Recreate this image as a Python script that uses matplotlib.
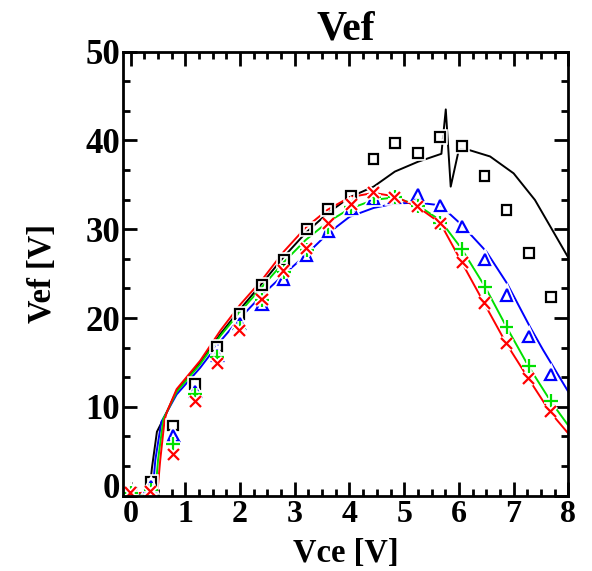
import matplotlib
matplotlib.use("Agg")
import matplotlib.pyplot as plt
import matplotlib.patheffects as pe
from matplotlib.ticker import MultipleLocator
from matplotlib.transforms import ScaledTranslation

plt.rcParams['font.family'] = ['Liberation Serif', 'DejaVu Serif']
plt.rcParams['font.weight'] = 'bold'

# measured points (markers)
vce_meas = [0.0, 0.37, 0.78, 1.18, 1.58, 1.99, 2.40, 2.80, 3.22, 3.61,
            4.03, 4.44, 4.83, 5.25, 5.66, 6.06, 6.47, 6.87, 7.28, 7.68]
vef_sq = [0.3, 1.55, 7.9, 12.6, 16.8, 20.5, 23.7, 26.5, 30.0, 32.3,
          33.8, 37.9, 39.7, 38.6, 40.4, 39.4, 36.0, 32.2, 27.3, 22.4]
vef_tri = [0.3, 1.0, 6.8, 11.7, 15.8, 19.4, 21.5, 24.4, 27.0, 29.8,
           32.4, 33.5, 33.6, 33.9, 32.7, 30.3, 26.6, 22.6, 17.9, 13.6]
vef_plus = [0.3, 0.6, 5.8, 11.4, 15.6, 18.9, 22.0, 25.2, 27.7, 30.3,
            32.5, 33.6, 33.6, 32.6, 30.7, 27.8, 23.5, 19.0, 14.6, 10.7]
vef_x = [0.3, 0.43, 4.6, 10.6, 14.9, 18.6, 22.1, 25.3, 27.8, 30.7,
         32.8, 34.1, 33.6, 32.6, 30.7, 26.3, 21.7, 17.1, 13.2, 9.5]

# simulated curves
vce_k = [0.0, 0.34, 0.39, 0.48, 0.66, 0.84, 1.27, 1.64, 2.0, 2.4, 2.8, 3.2,
         3.6, 4.0, 4.44, 4.83, 5.25, 5.68, 5.76, 5.85, 6.0, 6.2, 6.57, 7.0,
         7.39, 7.7, 8.0]
vef_k = [0.2, 0.3, 3.2, 7.2, 9.4, 11.8, 15.0, 18.2, 21.0, 23.9, 26.9, 29.6,
         31.8, 33.6, 34.8, 36.5, 37.6, 38.5, 43.5, 34.8, 39.0, 38.9, 38.2, 36.3,
         33.3, 30.0, 26.8]

vce_b = [0.0, 0.40, 0.45, 0.56, 0.66, 0.84, 1.27, 1.64, 2.0, 2.4, 2.8, 3.2,
         3.6, 4.0, 4.44, 4.83, 5.25, 5.66, 6.05, 6.5, 6.88, 7.3, 7.54, 8.0]
vef_b = [0.2, 0.3, 4.0, 8.3, 9.4, 11.4, 14.4, 17.4, 20.0, 22.6, 24.9, 27.1,
         29.5, 31.4, 32.4, 32.9, 33.0, 32.7, 30.5, 27.5, 23.9, 19.0, 16.4, 11.7]

vce_g = [0.0, 0.45, 0.50, 0.60, 0.66, 0.84, 1.27, 1.64, 2.0, 2.4, 2.8, 3.2,
         3.6, 4.0, 4.44, 4.83, 5.25, 5.66, 6.05, 6.48, 6.87, 7.27, 7.67, 8.0]
vef_g = [0.2, 0.3, 4.0, 8.7, 9.4, 11.7, 14.8, 18.0, 20.7, 23.5, 26.3, 28.8,
         30.8, 32.3, 33.3, 33.6, 32.7, 31.0, 27.8, 23.5, 19.0, 14.6, 10.7, 7.9]

vce_r = [0.0, 0.49, 0.54, 0.62, 0.66, 0.84, 1.27, 1.64, 2.0, 2.4, 2.8, 3.2,
         3.6, 4.0, 4.44, 4.83, 5.25, 5.66, 6.05, 6.45, 6.87, 7.27, 7.67, 8.0]
vef_r = [0.2, 0.5, 4.0, 8.5, 9.4, 12.0, 15.2, 18.6, 21.5, 24.3, 27.5, 30.2,
         32.2, 33.6, 34.1, 33.7, 32.5, 30.7, 26.3, 21.8, 17.1, 13.2, 9.4, 7.0]

fig = plt.figure(figsize=(5.92, 5.71), dpi=100)
ax = fig.add_axes([0.2078, 0.1319, 0.7522, 0.7776])

lw = 1.4
ax.plot(vce_k, vef_k, color='black', lw=lw)
ax.plot(vce_b, vef_b, color='blue', lw=lw)
ax.plot(vce_g, vef_g, color='#00e000', lw=lw)
ax.plot(vce_r, vef_r, color='red', lw=lw)

halo = [pe.withStroke(linewidth=4, foreground='white')]
ax.plot(vce_meas, vef_sq, ls='none', marker='s', ms=7, mfc='none',
        mec='black', mew=1.6, path_effects=halo)
ax.plot(vce_meas, vef_tri, ls='none', marker='^', ms=8, mfc='none',
        mec='blue', mew=1.6, path_effects=halo)
ax.plot(vce_meas, vef_plus, ls='none', marker='+', ms=10, color='#00e000',
        mew=1.6, path_effects=halo)
ax.plot(vce_meas, vef_x, ls='none', marker='x', ms=8, color='red',
        mew=1.6, path_effects=halo)

ax.set_xlim(-0.14, 8)
ax.set_ylim(0, 50)
ax.xaxis.set_major_locator(MultipleLocator(1))
ax.xaxis.set_minor_locator(MultipleLocator(0.25))
ax.yaxis.set_major_locator(MultipleLocator(10))
ax.yaxis.set_minor_locator(MultipleLocator(10 / 3))

for s in ax.spines.values():
    s.set_linewidth(2)
ax.tick_params(which='both', direction='in', top=True, right=True, width=2)
ax.tick_params(which='major', length=10)
ax.tick_params(which='minor', length=5)
ax.tick_params(axis='x', labelsize=23, pad=3)
ax.tick_params(axis='y', labelsize=25, pad=2)

# lift the "0" on the y axis a little off the corner
fig.canvas.draw()
for lbl in ax.get_yticklabels():
    if lbl.get_text() == '0':
        lbl.set_transform(lbl.get_transform()
                          + ScaledTranslation(0, 7 / 72, fig.dpi_scale_trans))

ax.set_title('Vef', fontsize=30, fontweight='bold', pad=9)
ax.set_xlabel('Vce [V]', fontsize=23.5, fontweight='bold')
ax.set_ylabel('Vef [V]', fontsize=23.5, fontweight='bold')
ax.xaxis.set_label_coords(0.5, -0.095)
ax.yaxis.set_label_coords(-0.145, 0.5)

fig.savefig('out.png', dpi=100)
